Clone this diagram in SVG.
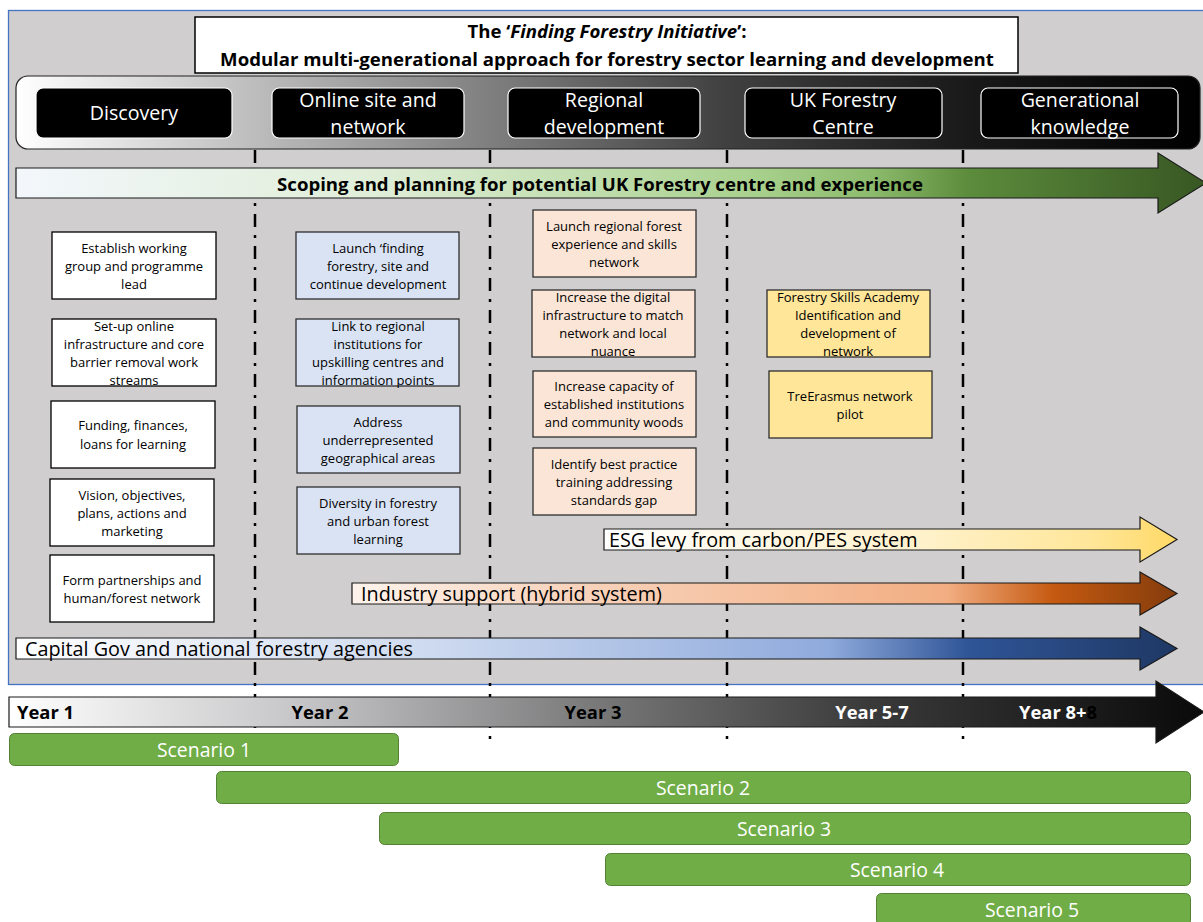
<svg xmlns="http://www.w3.org/2000/svg" width="1203" height="922" viewBox="0 0 1203 922">
<defs>
<linearGradient id="gBanner" x1="0" y1="0" x2="1" y2="0">
<stop offset="0" stop-color="#ffffff"/>
<stop offset="0.2" stop-color="#bdbdbd"/>
<stop offset="0.4" stop-color="#7f7f7f"/>
<stop offset="0.6" stop-color="#404040"/>
<stop offset="0.8" stop-color="#1a1a1a"/>
<stop offset="1" stop-color="#000000"/>
</linearGradient>
<linearGradient id="gYear" gradientUnits="userSpaceOnUse" x1="9" y1="0" x2="1203" y2="0">
<stop offset="0" stop-color="#ffffff"/>
<stop offset="0.25" stop-color="#c4c4c6"/>
<stop offset="0.5" stop-color="#767677"/>
<stop offset="0.72" stop-color="#3a3a3a"/>
<stop offset="1" stop-color="#0a0a0a"/>
</linearGradient>
<linearGradient id="gScope" gradientUnits="userSpaceOnUse" x1="16" y1="0" x2="1205" y2="0">
<stop offset="0" stop-color="#f3f7fc"/>
<stop offset="0.3" stop-color="#e0eed8"/>
<stop offset="0.62" stop-color="#a9d18e"/>
<stop offset="0.72" stop-color="#8dbb6d"/>
<stop offset="0.8" stop-color="#5c8c3c"/>
<stop offset="1" stop-color="#385723"/>
</linearGradient>
<linearGradient id="gEsg" gradientUnits="userSpaceOnUse" x1="604" y1="0" x2="1177" y2="0">
<stop offset="0" stop-color="#ffffff"/>
<stop offset="0.55" stop-color="#fff2cc"/>
<stop offset="0.85" stop-color="#ffe699"/>
<stop offset="1" stop-color="#ffd966"/>
</linearGradient>
<linearGradient id="gInd" gradientUnits="userSpaceOnUse" x1="352" y1="0" x2="1177" y2="0">
<stop offset="0" stop-color="#fdf3ec"/>
<stop offset="0.25" stop-color="#f8d5bf"/>
<stop offset="0.72" stop-color="#f2ae82"/>
<stop offset="0.85" stop-color="#c55a11"/>
<stop offset="1" stop-color="#843c0c"/>
</linearGradient>
<linearGradient id="gCap" gradientUnits="userSpaceOnUse" x1="16" y1="0" x2="1177" y2="0">
<stop offset="0" stop-color="#ffffff"/>
<stop offset="0.35" stop-color="#cfdbf0"/>
<stop offset="0.7" stop-color="#8faadc"/>
<stop offset="0.82" stop-color="#2f5597"/>
<stop offset="1" stop-color="#1f3864"/>
</linearGradient>
<style>
.t{font-family:"Open Sans","Noto Sans","Liberation Sans",sans-serif;}
.title{font-size:18.6px;font-weight:bold;fill:#000;text-anchor:middle;}
.phase rect{fill:#000;stroke:#fff;stroke-width:1.2;}
.phase text{font-size:19.6px;fill:#fff;text-anchor:middle;}
.box text{font-size:13px;fill:#000;text-anchor:middle;}
.white rect{fill:#fff;stroke:#000;stroke-width:1.3;}
.blue rect{fill:#dae3f3;stroke:#2f2f2f;stroke-width:1.3;}
.peach rect{fill:#fbe5d6;stroke:#2f2f2f;stroke-width:1.3;}
.yellow rect{fill:#ffe699;stroke:#2f2f2f;stroke-width:1.3;}
.arrow path{stroke:#1a1a1a;stroke-width:1.2;}
.atext{font-size:19.8px;fill:#000;}
.year{font-size:18.4px;font-weight:bold;}
.scen rect{fill:#70ad47;stroke:#548235;stroke-width:1;}
.scen text{font-size:19.4px;fill:#fff;text-anchor:middle;}
.div{stroke:#000;stroke-width:2.5;stroke-dasharray:13 8 3 8;fill:none;}
</style>
</defs>

<rect x="0" y="0" width="1203" height="922" fill="#ffffff"/>
<rect id="panel" x="8.5" y="10.5" width="1200" height="674" fill="#d0cece" stroke="#4472c4" stroke-width="1.3"/>

<g id="title">
<rect x="195" y="17" width="823" height="56" fill="#fff" stroke="#000" stroke-width="1.5"/>
<text class="t title" x="607" y="38">The ‘<tspan font-style="italic">Finding Forestry Initiative</tspan>’:</text>
<text class="t title" x="607" y="66">Modular multi-generational approach for forestry sector learning and development</text>
</g>

<g id="banner">
<rect x="16" y="76" width="1184" height="73" rx="12" fill="url(#gBanner)" stroke="#222" stroke-width="1.2"/>
</g>
<g id="phase-discovery" class="phase"><rect x="36" y="88" width="196" height="50" rx="7"/><text class="t" x="134" y="120">Discovery</text></g>
<g id="phase-online" class="phase"><rect x="272" y="88" width="192" height="50" rx="7"/><text class="t" x="368" y="107">Online site and</text><text class="t" x="368" y="134">network</text></g>
<g id="phase-regional" class="phase"><rect x="508" y="88" width="192" height="50" rx="7"/><text class="t" x="604" y="107">Regional</text><text class="t" x="604" y="134">development</text></g>
<g id="phase-ukfc" class="phase"><rect x="745" y="88" width="197" height="50" rx="7"/><text class="t" x="843" y="107">UK Forestry</text><text class="t" x="843" y="134">Centre</text></g>
<g id="phase-gen" class="phase"><rect x="981" y="88" width="197" height="50" rx="7"/><text class="t" x="1080" y="107">Generational</text><text class="t" x="1080" y="134">knowledge</text></g>

<g id="dividers">
<path class="div" d="M255,150 V728 M490,150 V728 M727,150 V728 M963,150 V728"/>
<path d="M255,736 v3 M490,736 v3 M727,736 v3 M963,736 v3" stroke="#000" stroke-width="2.5"/>
</g>

<g id="scoping" class="arrow">
<path d="M16,168 H1158 V153 L1206,183 L1158,213 V198 H16 Z" fill="url(#gScope)"/>
<text class="t" x="600" y="191" font-size="18.6px" font-weight="bold" text-anchor="middle">Scoping and planning for potential UK Forestry centre and experience</text>
</g>

<g id="c1-1" class="box white"><rect x="52" y="232" width="164" height="67"/><text class="t" x="134" y="253">Establish working</text><text class="t" x="134" y="271">group and programme</text><text class="t" x="134" y="289">lead</text></g>
<g id="c1-2" class="box white"><rect x="52" y="319" width="164" height="67"/><text class="t" x="134" y="331">Set-up online</text><text class="t" x="134" y="349">infrastructure and core</text><text class="t" x="134" y="367">barrier removal work</text><text class="t" x="134" y="385">streams</text></g>
<g id="c1-3" class="box white"><rect x="51" y="401" width="164" height="67"/><text class="t" x="133" y="430">Funding, finances,</text><text class="t" x="133" y="449">loans for learning</text></g>
<g id="c1-4" class="box white"><rect x="50" y="479" width="164" height="67"/><text class="t" x="132" y="500">Vision, objectives,</text><text class="t" x="132" y="518">plans, actions and</text><text class="t" x="132" y="536">marketing</text></g>
<g id="c1-5" class="box white"><rect x="50" y="555" width="164" height="67"/><text class="t" x="132" y="585">Form partnerships and</text><text class="t" x="132" y="603">human/forest network</text></g>

<g id="c2-1" class="box blue"><rect x="296" y="232" width="163" height="67"/><text class="t" x="378" y="253">Launch ‘finding</text><text class="t" x="378" y="271">forestry, site and</text><text class="t" x="378" y="289">continue development</text></g>
<g id="c2-2" class="box blue"><rect x="296" y="319" width="163" height="67"/><text class="t" x="378" y="331">Link to regional</text><text class="t" x="378" y="349">institutions for</text><text class="t" x="378" y="367">upskilling centres and</text><text class="t" x="378" y="385">information points</text></g>
<g id="c2-3" class="box blue"><rect x="297" y="406" width="163" height="67"/><text class="t" x="378" y="427">Address</text><text class="t" x="378" y="445">underrepresented</text><text class="t" x="378" y="463">geographical areas</text></g>
<g id="c2-4" class="box blue"><rect x="297" y="487" width="163" height="67"/><text class="t" x="378" y="508">Diversity in forestry</text><text class="t" x="378" y="526">and urban forest</text><text class="t" x="378" y="544">learning</text></g>

<g id="c3-1" class="box peach"><rect x="533" y="210" width="163" height="67"/><text class="t" x="614" y="231">Launch regional forest</text><text class="t" x="614" y="249">experience and skills</text><text class="t" x="614" y="267">network</text></g>
<g id="c3-2" class="box peach"><rect x="532" y="290" width="163" height="67"/><text class="t" x="613" y="302">Increase the digital</text><text class="t" x="613" y="320">infrastructure to match</text><text class="t" x="613" y="338">network and local</text><text class="t" x="613" y="356">nuance</text></g>
<g id="c3-3" class="box peach"><rect x="533" y="371" width="163" height="66"/><text class="t" x="614" y="391">Increase capacity of</text><text class="t" x="614" y="409">established institutions</text><text class="t" x="614" y="427">and community woods</text></g>
<g id="c3-4" class="box peach"><rect x="533" y="448" width="163" height="67"/><text class="t" x="614" y="469">Identify best practice</text><text class="t" x="614" y="487">training addressing</text><text class="t" x="614" y="505">standards gap</text></g>

<g id="c4-1" class="box yellow"><rect x="767" y="290" width="163" height="67"/><text class="t" x="848" y="302">Forestry Skills Academy</text><text class="t" x="848" y="320">Identification and</text><text class="t" x="848" y="338">development of</text><text class="t" x="848" y="356">network</text></g>
<g id="c4-2" class="box yellow"><rect x="769" y="371" width="163" height="67"/><text class="t" x="850" y="401">TreErasmus network</text><text class="t" x="850" y="419">pilot</text></g>

<g id="esg" class="arrow">
<path d="M604,529 H1140 V517 L1177,539.5 L1140,562 V550 H604 Z" fill="url(#gEsg)"/>
<text class="t atext" x="609" y="546.5">ESG levy from carbon/PES system</text>
</g>
<g id="industry" class="arrow">
<path d="M352,583 H1140 V572 L1177,593.5 L1140,615 V604 H352 Z" fill="url(#gInd)"/>
<text class="t atext" x="361" y="600.5">Industry support (hybrid system)</text>
</g>
<g id="capital" class="arrow">
<path d="M16,638 H1140 V627 L1177,648.5 L1140,670 V659 H16 Z" fill="url(#gCap)"/>
<text class="t atext" x="25" y="655.5">Capital Gov and national forestry agencies</text>
</g>

<g id="yearbar" class="arrow">
<path d="M9,697 H1156 V681 L1204,712 L1156,743 V727 H9 Z" fill="url(#gYear)"/>
<text class="t year" x="17" y="718.5" fill="#000">Year 1</text>
<text class="t year" x="320" y="718.5" fill="#000" text-anchor="middle">Year 2</text>
<text class="t year" x="593" y="718.5" fill="#000" text-anchor="middle">Year 3</text>
<text class="t year" x="872" y="718.5" fill="#fff" text-anchor="middle">Year 5-7</text>
<text class="t year" x="1019" y="718.5" fill="#fff">Year 8+<tspan fill="#000">8</tspan></text>
</g>

<g id="scenario1" class="scen"><rect x="9.5" y="733.5" width="389" height="32" rx="5"/><text class="t" x="204" y="756.5">Scenario 1</text></g>
<g id="scenario2" class="scen"><rect x="216.5" y="771.5" width="974" height="32" rx="5"/><text class="t" x="703" y="794.5">Scenario 2</text></g>
<g id="scenario3" class="scen"><rect x="379.5" y="812.5" width="811" height="32" rx="5"/><text class="t" x="784" y="835.5">Scenario 3</text></g>
<g id="scenario4" class="scen"><rect x="605.5" y="853.5" width="585" height="32" rx="5"/><text class="t" x="897" y="876.5">Scenario 4</text></g>
<g id="scenario5" class="scen"><rect x="876.5" y="893.5" width="314" height="32" rx="5"/><text class="t" x="1032" y="916.5">Scenario 5</text></g>
</svg>
